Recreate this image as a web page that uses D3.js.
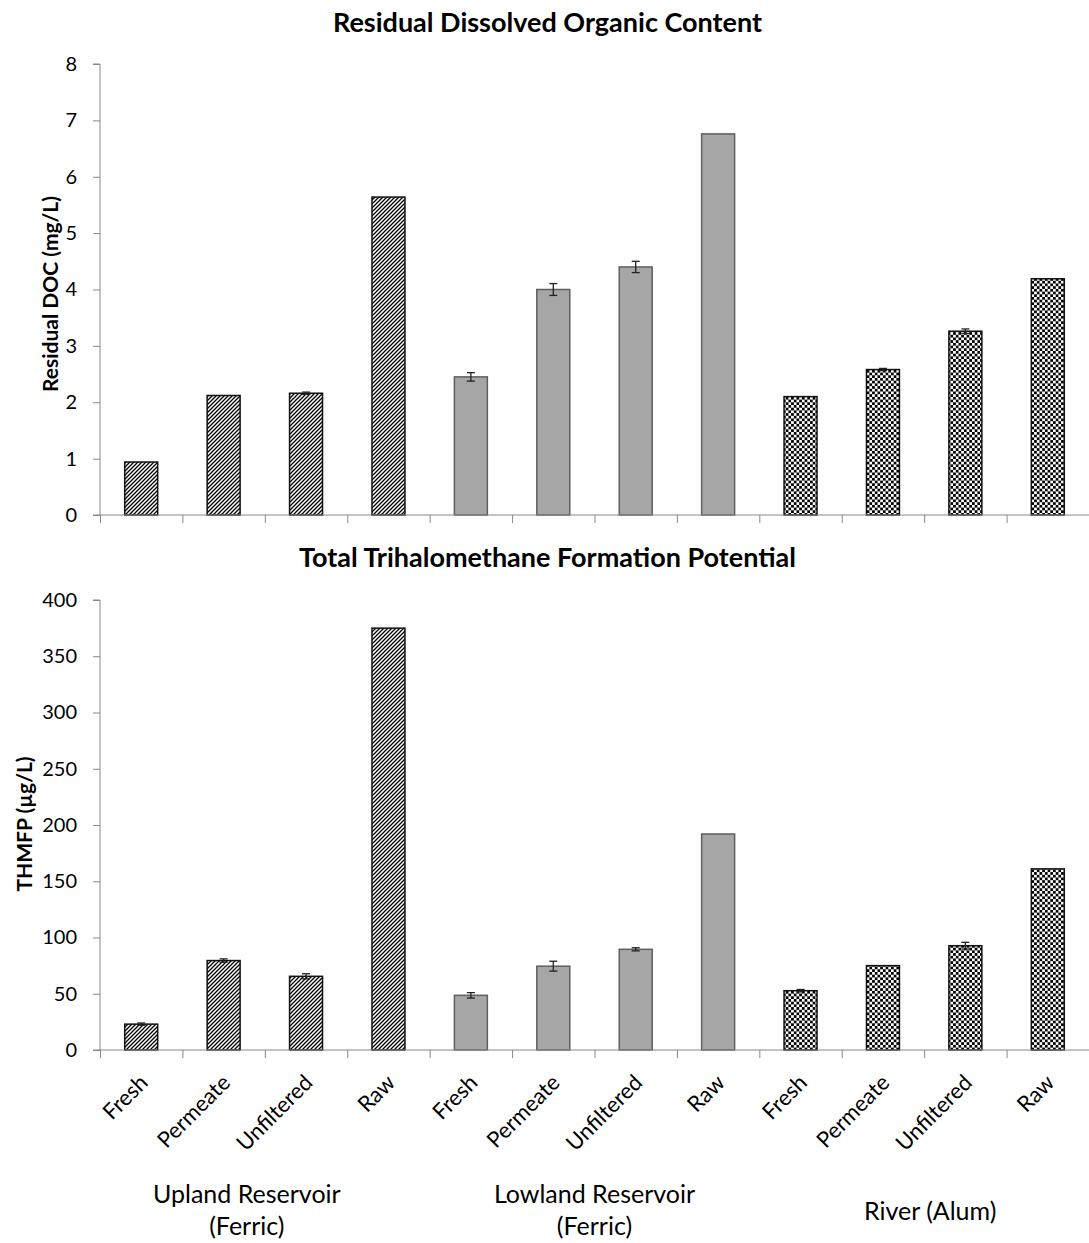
<!DOCTYPE html>
<html>
<head>
  <meta charset="utf-8">
  <script src="https://d3js.org/d3.v7.min.js"></script>
  <style>
  * {
    font-family: Lato, "Open Sans", sans-serif;
  }
  body { margin: 0; background: #ffffff; }
  </style>
</head>
<body>
  <div id="chart"></div>
<script>
const samples = ["Fresh", "Permeate", "Unfiltered", "Raw",
                 "Fresh", "Permeate", "Unfiltered", "Raw",
                 "Fresh", "Permeate", "Unfiltered", "Raw"];
const sampleGroup = [0, 0, 0, 0, 1, 1, 1, 1, 2, 2, 2, 2];
const groupNames = [["Upland Reservoir", "(Ferric)"], ["Lowland Reservoir", "(Ferric)"], ["River (Alum)"]];

const docValues = [0.94, 2.12, 2.16, 5.64, 2.45, 4.00, 4.40, 6.76, 2.10, 2.58, 3.26, 4.19];
const docErrors = [0, 0, 0.02, 0, 0.075, 0.105, 0.10, 0, 0, 0.02, 0.04, 0];
const docTicks = [0, 1, 2, 3, 4, 5, 6, 7, 8];

const thmfpValues = [23, 79.5, 65.5, 375, 48.6, 74.5, 89.5, 192, 52.7, 75, 92.7, 161];
const thmfpErrors = [1, 1.5, 2.3, 0, 2.4, 4.4, 1.4, 0, 1.1, 0, 3.0, 0];
const thmfpTicks = [0, 50, 100, 150, 200, 250, 300, 350, 400];

const W = 1089, H = 1243;
const left = 100, right = 1089;
const axisColor = "#888888";
// Excel nudges the wrapped group captions a little
const groupShift = [-18, 0, 6];

const svg = d3.select("#chart")
              .append("svg")
              .attr("width", W)
              .attr("height", H);

// fill patterns
const defs = svg.append("defs");
const hatch = defs.append("pattern")
                  .attr("id", "hatch")
                  .attr("patternUnits", "userSpaceOnUse")
                  .attr("width", 4)
                  .attr("height", 4);
hatch.append("rect").attr("width", 4).attr("height", 4).attr("fill", "#fff");
hatch.append("path")
     .attr("d", "M-1,1 l2,-2 M0,4 l4,-4 M3,5 l2,-2")
     .attr("stroke", "#000")
     .attr("stroke-width", 1.3);

const check = defs.append("pattern")
                  .attr("id", "check")
                  .attr("patternUnits", "userSpaceOnUse")
                  .attr("width", 5.4)
                  .attr("height", 5.4);
check.append("rect").attr("width", 5.4).attr("height", 5.4).attr("fill", "#fff");
check.append("rect").attr("width", 2.7).attr("height", 2.7).attr("fill", "#000");
check.append("rect").attr("x", 2.7).attr("y", 2.7).attr("width", 2.7).attr("height", 2.7).attr("fill", "#000");

const fills = ["url(#hatch)", "#a6a6a6", "url(#check)"];
const strokes = ["#111", "#5f5f5f", "#111"];

const x = d3.scaleBand()
            .domain(d3.range(samples.length))
            .range([left, right])
            .paddingInner(0.6)
            .paddingOuter(0.3);
const xEdges = d3.scaleLinear()
                 .domain([0, samples.length])
                 .range([left, right]);

function drawPanel(opts) {
  const y = d3.scaleLinear()
              .domain([0, d3.max(opts.ticks)])
              .range([opts.bottom, opts.top]);

  // title
  svg.append("text")
     .attr("x", (W + 6) / 2)
     .attr("y", opts.titleY)
     .attr("text-anchor", "middle")
     .style("font-size", "27px")
     .style("font-weight", "bold")
     .text(opts.title);

  // y axis
  const yAxis = svg.append("g")
     .attr("transform", `translate(${left},0)`)
     .call(d3.axisLeft(y).tickValues(opts.ticks).tickSize(7).tickPadding(16));
  yAxis.selectAll("line, path").attr("stroke", axisColor);
  yAxis.select(".domain").attr("d", `M-7,${opts.top}H0V${opts.bottom}`);
  yAxis.selectAll("text").style("font-size", "20px").attr("fill", "#000");

  svg.append("text")
     .attr("transform", `translate(${opts.yTitleX},${opts.yTitleY}) rotate(-90)`)
     .attr("text-anchor", "middle")
     .style("font-size", "21px")
     .style("font-weight", "bold")
     .text(opts.yTitle);

  // bars
  svg.append("g")
     .selectAll("rect")
     .data(opts.values)
     .join("rect")
     .attr("x", (d, i) => x(i))
     .attr("width", x.bandwidth())
     .attr("y", d => y(d))
     .attr("height", d => opts.bottom - y(d))
     .attr("fill", (d, i) => fills[sampleGroup[i]])
     .attr("stroke", (d, i) => strokes[sampleGroup[i]])
     .attr("stroke-width", 1.5);

  // error bars
  const err = svg.append("g")
     .selectAll("g")
     .data(opts.values.map((v, i) => ({ v: v, e: opts.errors[i], i: i })).filter(d => d.e > 0))
     .join("g")
     .attr("stroke", "#222")
     .attr("stroke-width", 1.3);
  const cx = d => x(d.i) + x.bandwidth() / 2;
  err.append("line")
     .attr("x1", cx).attr("x2", cx)
     .attr("y1", d => y(d.v + d.e)).attr("y2", d => y(d.v - d.e));
  err.append("line")
     .attr("x1", d => cx(d) - 4).attr("x2", d => cx(d) + 4)
     .attr("y1", d => y(d.v + d.e)).attr("y2", d => y(d.v + d.e));
  err.append("line")
     .attr("x1", d => cx(d) - 4).attr("x2", d => cx(d) + 4)
     .attr("y1", d => y(d.v - d.e)).attr("y2", d => y(d.v - d.e));

  // x axis
  const xAxis = svg.append("g")
     .attr("transform", `translate(0,${opts.bottom})`)
     .call(d3.axisBottom(xEdges).tickValues(d3.range(samples.length + 1)).tickSize(8).tickFormat(""));
  xAxis.selectAll("line, path").attr("stroke", axisColor);
  xAxis.select(".domain").attr("d", `M${left - 7},0H${right}`);

  return y;
}

drawPanel({
  title: "Residual Dissolved Organic Content",
  titleY: 32,
  yTitle: "Residual DOC (mg/L)",
  yTitleX: 58, yTitleY: 294,
  top: 64, bottom: 515,
  ticks: docTicks,
  values: docValues,
  errors: docErrors
});

drawPanel({
  title: "Total Trihalomethane Formation Potential",
  titleY: 567,
  yTitle: "THMFP (\u00b5g/L)",
  yTitleX: 32, yTitleY: 824,
  top: 600, bottom: 1050,
  ticks: thmfpTicks,
  values: thmfpValues,
  errors: thmfpErrors
});

// category labels
svg.append("g")
   .selectAll("text")
   .data(samples)
   .join("text")
   .attr("transform", (d, i) => `translate(${x(i) + x.bandwidth() / 2 + 8},1084) rotate(-45)`)
   .attr("text-anchor", "end")
   .style("font-size", "22px")
   .text(d => d);

// group labels
groupNames.forEach(function(lines, g) {
  const idx = d3.range(samples.length).filter(i => sampleGroup[i] === g);
  const gx = (xEdges(d3.min(idx)) + xEdges(d3.max(idx) + 1)) / 2 + groupShift[g];
  const t = svg.append("text")
     .attr("x", gx)
     .attr("y", lines.length > 1 ? 1203 : 1220)
     .attr("text-anchor", "middle")
     .style("font-size", "25px");
  lines.forEach(function(l, k) {
    t.append("tspan").attr("x", gx).attr("dy", k === 0 ? 0 : 32).text(l);
  });
});
</script>
</body>
</html>
